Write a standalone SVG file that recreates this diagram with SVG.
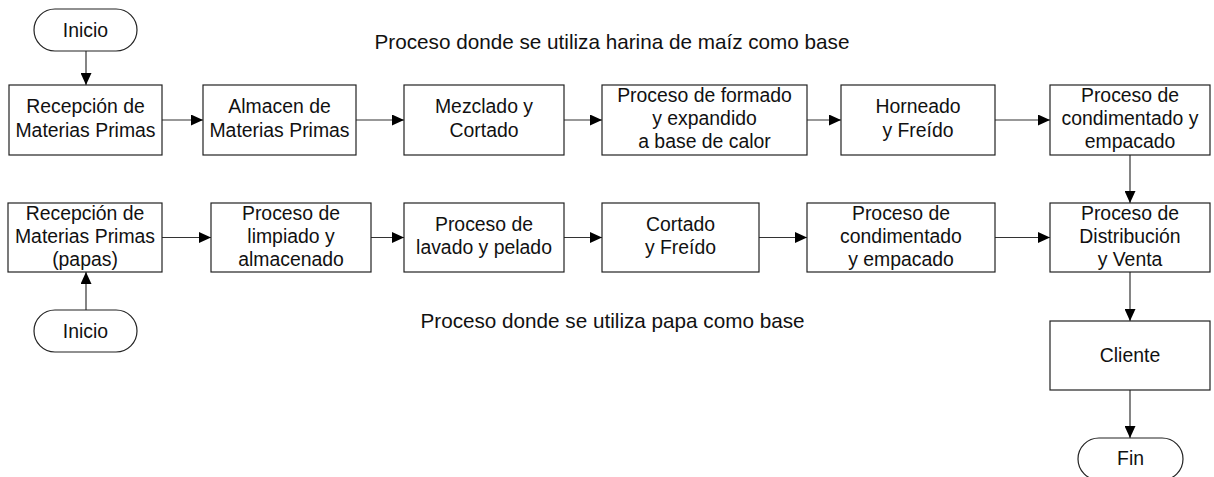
<svg xmlns="http://www.w3.org/2000/svg" width="1214" height="477" viewBox="0 0 1214 477">
<style>
.n{fill:#fff;stroke:#222;stroke-width:1.2}
.t{font-family:"Liberation Sans",Arial,sans-serif;font-size:19.4px;fill:#111;text-anchor:middle}
.h{font-family:"Liberation Sans",Arial,sans-serif;font-size:20.7px;fill:#111;text-anchor:middle}
.c{fill:none;stroke:#333;stroke-width:1.2;marker-end:url(#ah)}
</style>
<defs>
<marker id="ah" markerWidth="12" markerHeight="11" refX="12" refY="5.5" orient="auto" markerUnits="userSpaceOnUse">
<path d="M0,0 L12,5.5 L0,11 Z" fill="#000"/>
</marker>
</defs>
<rect width="1214" height="477" fill="#fff"/>
<text class="h" x="612" y="49">Proceso donde se utiliza harina de maíz como base</text>
<text class="h" x="612.5" y="328">Proceso donde se utiliza papa como base</text>
<g id="connectors">
<path class="c" d="M86,51 L86,85"/>
<path class="c" d="M162,120 L203,120"/>
<path class="c" d="M356,120 L404,120"/>
<path class="c" d="M564,120 L602,120"/>
<path class="c" d="M807,120 L841,120"/>
<path class="c" d="M995,120 L1050,120"/>
<path class="c" d="M1130,155 L1130,203"/>
<path class="c" d="M86,310 L86,272"/>
<path class="c" d="M162,237.5 L211,237.5"/>
<path class="c" d="M371,237.5 L404,237.5"/>
<path class="c" d="M564,237.5 L602,237.5"/>
<path class="c" d="M759,237.5 L807,237.5"/>
<path class="c" d="M995,237.5 L1050,237.5"/>
<path class="c" d="M1130,272 L1130,321"/>
<path class="c" d="M1130,390 L1130,438"/>
</g>
<g id="inicio1"><rect class="n" x="34" y="9" width="103" height="42" rx="21"/><text class="t" x="85.5" y="37">Inicio</text></g>
<g id="r1b1"><rect class="n" x="9" y="85" width="153" height="70"/><text class="t" x="85.5" y="113">Recepción de</text><text class="t" x="85.5" y="136.5">Materias Primas</text></g>
<g id="r1b2"><rect class="n" x="203" y="85" width="153" height="70"/><text class="t" x="279.5" y="113">Almacen de</text><text class="t" x="279.5" y="136.5">Materias Primas</text></g>
<g id="r1b3"><rect class="n" x="404" y="85" width="160" height="70"/><text class="t" x="484" y="113">Mezclado y</text><text class="t" x="484" y="136.5">Cortado</text></g>
<g id="r1b4"><rect class="n" x="602" y="85" width="205" height="70"/><text class="t" x="704.5" y="102">Proceso de formado</text><text class="t" x="704.5" y="125">y expandido</text><text class="t" x="704.5" y="148">a base de calor</text></g>
<g id="r1b5"><rect class="n" x="841" y="85" width="154" height="70"/><text class="t" x="918" y="113">Horneado</text><text class="t" x="918" y="136.5">y Freído</text></g>
<g id="r1b6"><rect class="n" x="1050" y="85" width="160" height="70"/><text class="t" x="1130" y="102">Proceso de</text><text class="t" x="1130" y="125">condimentado y</text><text class="t" x="1130" y="148">empacado</text></g>
<g id="r2b1"><rect class="n" x="8" y="203" width="154" height="69"/><text class="t" x="85" y="220">Recepción de</text><text class="t" x="85" y="243">Materias Primas</text><text class="t" x="85" y="266">(papas)</text></g>
<g id="r2b2"><rect class="n" x="211" y="203" width="160" height="69"/><text class="t" x="291" y="220">Proceso de</text><text class="t" x="291" y="243">limpiado y</text><text class="t" x="291" y="266">almacenado</text></g>
<g id="r2b3"><rect class="n" x="404" y="203" width="160" height="69"/><text class="t" x="484" y="231">Proceso de</text><text class="t" x="484" y="254">lavado y pelado</text></g>
<g id="r2b4"><rect class="n" x="602" y="203" width="157" height="69"/><text class="t" x="680.5" y="231">Cortado</text><text class="t" x="680.5" y="254">y Freído</text></g>
<g id="r2b5"><rect class="n" x="807" y="203" width="188" height="69"/><text class="t" x="901" y="220">Proceso de</text><text class="t" x="901" y="243">condimentado</text><text class="t" x="901" y="266">y empacado</text></g>
<g id="r2b6"><rect class="n" x="1050" y="203" width="160" height="69"/><text class="t" x="1130" y="220">Proceso de</text><text class="t" x="1130" y="243">Distribución</text><text class="t" x="1130" y="266">y Venta</text></g>
<g id="inicio2"><rect class="n" x="34" y="310" width="103" height="42" rx="21"/><text class="t" x="85.5" y="338">Inicio</text></g>
<g id="cliente"><rect class="n" x="1050" y="321" width="160" height="69"/><text class="t" x="1130" y="362">Cliente</text></g>
<g id="fin"><rect class="n" x="1078" y="438" width="105" height="42" rx="21"/><text class="t" x="1130.5" y="465">Fin</text></g>
</svg>
